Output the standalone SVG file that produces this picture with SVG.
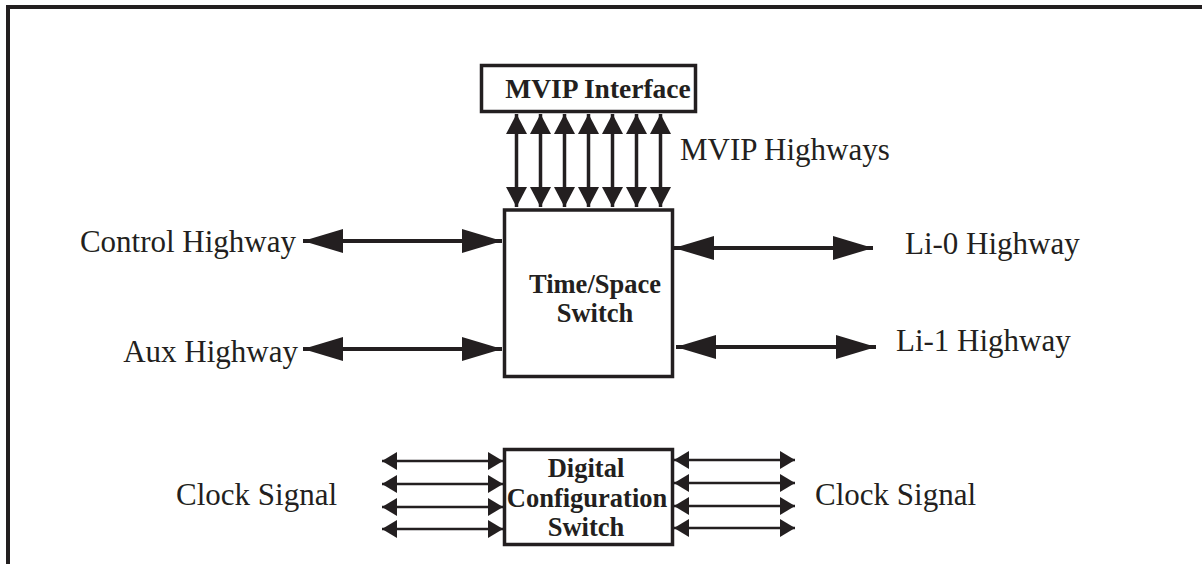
<svg xmlns="http://www.w3.org/2000/svg" width="1202" height="564" viewBox="0 0 1202 564">
  <style>
    .box { fill: #ffffff; stroke: #231f20; stroke-width: 3.5; }
    .frame { fill: none; stroke: #231f20; stroke-width: 4; }
    .big { stroke: #231f20; stroke-width: 4; fill: none; marker-start: url(#headBig); marker-end: url(#headBig); }
    .mvip { stroke: #231f20; stroke-width: 3.5; fill: none; marker-start: url(#headMid); marker-end: url(#headMid); }
    .small { stroke: #231f20; stroke-width: 2.5; fill: none; marker-start: url(#headSmall); marker-end: url(#headSmall); }
    .label { font-family: "Liberation Serif", "Times New Roman", serif; font-size: 31px; fill: #231f20; }
    .title { font-family: "Liberation Serif", "Times New Roman", serif; font-size: 26.5px; font-weight: bold; fill: #231f20; text-anchor: middle; }
  </style>
  <defs>
    <marker id="headBig" markerUnits="userSpaceOnUse" markerWidth="40" markerHeight="24" refX="40" refY="12" orient="auto-start-reverse">
      <path d="M0,0 L40,12 L0,24 Z" fill="#231f20"/>
    </marker>
    <marker id="headMid" markerUnits="userSpaceOnUse" markerWidth="20" markerHeight="21" refX="20" refY="10.5" orient="auto-start-reverse">
      <path d="M0,0 L20,10.5 L0,21 Z" fill="#231f20"/>
    </marker>
    <marker id="headSmall" markerUnits="userSpaceOnUse" markerWidth="15" markerHeight="18" refX="15" refY="9" orient="auto-start-reverse">
      <path d="M0,0 L15,9 L0,18 Z" fill="#231f20"/>
    </marker>
  </defs>

  <rect width="1202" height="564" fill="#ffffff"/>
  <!-- outer frame: top and left edges only -->
  <path class="frame" d="M8,564 V7 H1202"/>

  <g id="connectors">
    <!-- MVIP highways -->
    <line class="mvip" x1="516.5" y1="114" x2="516.5" y2="207"/>
    <line class="mvip" x1="540.5" y1="114" x2="540.5" y2="207"/>
    <line class="mvip" x1="564.5" y1="114" x2="564.5" y2="207"/>
    <line class="mvip" x1="588.5" y1="114" x2="588.5" y2="207"/>
    <line class="mvip" x1="612.5" y1="114" x2="612.5" y2="207"/>
    <line class="mvip" x1="636.5" y1="114" x2="636.5" y2="207"/>
    <line class="mvip" x1="660.5" y1="114" x2="660.5" y2="207"/>
    <!-- left highways -->
    <line class="big" x1="303" y1="241" x2="502" y2="241"/>
    <line class="big" x1="303" y1="349" x2="502" y2="349"/>
    <!-- right highways -->
    <line class="big" x1="674" y1="248" x2="873" y2="248"/>
    <line class="big" x1="676" y1="347" x2="876" y2="347"/>
    <!-- clock signals, left -->
    <line class="small" x1="382" y1="461" x2="503" y2="461"/>
    <line class="small" x1="382" y1="484" x2="503" y2="484"/>
    <line class="small" x1="382" y1="507" x2="503" y2="507"/>
    <line class="small" x1="382" y1="529" x2="503" y2="529"/>
    <!-- clock signals, right -->
    <line class="small" x1="674" y1="460" x2="795" y2="460"/>
    <line class="small" x1="674" y1="483" x2="795" y2="483"/>
    <line class="small" x1="674" y1="506" x2="795" y2="506"/>
    <line class="small" x1="674" y1="528" x2="795" y2="528"/>
  </g>

  <g id="mvip-interface">
    <rect class="box" x="481.5" y="65.5" width="214" height="46"/>
    <text class="title" x="598" y="98" style="font-size:27.5px">MVIP Interface</text>
  </g>

  <g id="time-space-switch">
    <rect class="box" x="504.5" y="210" width="168" height="166.5"/>
    <text class="title" x="595" y="293">Time/Space</text>
    <text class="title" x="595" y="322">Switch</text>
  </g>

  <g id="digital-configuration-switch">
    <rect class="box" x="504.5" y="449.5" width="168" height="95"/>
    <text class="title" x="586" y="477">Digital</text>
    <text class="title" x="587" y="507">Configuration</text>
    <text class="title" x="586" y="536">Switch</text>
  </g>

  <g id="labels">
    <text class="label" x="680" y="160">MVIP Highways</text>
    <text class="label" x="296" y="252" text-anchor="end">Control Highway</text>
    <text class="label" x="298" y="362" text-anchor="end">Aux Highway</text>
    <text class="label" x="905" y="254">Li-0 Highway</text>
    <text class="label" x="896" y="351">Li-1 Highway</text>
    <text class="label" x="176" y="505">Clock Signal</text>
    <text class="label" x="815" y="505">Clock Signal</text>
  </g>
</svg>
